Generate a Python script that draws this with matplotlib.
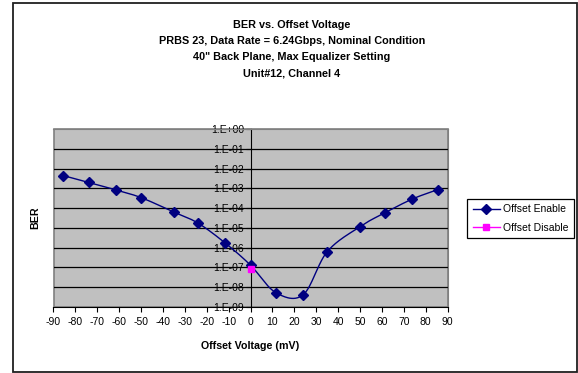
import matplotlib
matplotlib.use("Agg")
import matplotlib.pyplot as plt
from matplotlib.patches import Rectangle
import numpy as np

plt.rcParams['font.family'] = ['Liberation Sans', 'DejaVu Sans']
plt.rcParams['axes.unicode_minus'] = False

# data
offset_mv = [-85.5, -74, -61.5, -50, -35, -24, -11.5, 0, 11.5, 24, 35, 50, 61.5, 74, 85.5]
ber_enable = [4.4e-3, 2.0e-3, 8.3e-4, 3.4e-4, 6.3e-5, 1.75e-5, 1.7e-6, 1.3e-7,
              5.4e-9, 4.1e-9, 6.2e-7, 1.15e-5, 5.9e-5, 2.9e-4, 8.6e-4]
disable_mv = [0]
ber_disable = [8.8e-8]

title_lines = ["BER vs. Offset Voltage",
               "PRBS 23, Data Rate = 6.24Gbps, Nominal Condition",
               "40\" Back Plane, Max Equalizer Setting",
               "Unit#12, Channel 4"]
y_ticks = [10.0 ** -k for k in range(0, 10)]
y_labels = ["1.E+00"] + ["1.E-%02d" % k for k in range(1, 10)]
x_ticks = list(range(-90, 91, 10))


def smooth(x, y, n=30):
    # Excel style smoothed line (Catmull-Rom) in log space
    x = np.asarray(x, float)
    y = np.log10(np.asarray(y, float))
    px = np.concatenate([[2 * x[0] - x[1]], x, [2 * x[-1] - x[-2]]])
    py = np.concatenate([[2 * y[0] - y[1]], y, [2 * y[-1] - y[-2]]])
    xs, ys = [], []
    t = np.linspace(0, 1, n)
    for i in range(1, len(px) - 2):
        for p, out in ((px, xs), (py, ys)):
            p0, p1, p2, p3 = p[i - 1], p[i], p[i + 1], p[i + 2]
            out.extend(0.5 * ((2 * p1) + (-p0 + p2) * t
                              + (2 * p0 - 5 * p1 + 4 * p2 - p3) * t ** 2
                              + (-p0 + 3 * p1 - 3 * p2 + p3) * t ** 3))
    return np.array(xs), 10 ** np.array(ys)


W, H = 578, 373
fig = plt.figure(figsize=(W / 100, H / 100), dpi=100)
fig.patches.append(Rectangle((13 / W, 1 - 372 / H), 564 / W, 369 / H,
                             transform=fig.transFigure, fill=False,
                             edgecolor='#202020', linewidth=1.3))

ax = fig.add_axes([53.5 / W, 1 - 307 / H, 394 / W, 178 / H])
ax.set_facecolor('#c0c0c0')
ax.patch.set_edgecolor('#808080')
ax.patch.set_linewidth(1.2)

ax.set_yscale('log')
ax.set_ylim(1e-9, 1)
ax.set_xlim(-90, 90)
for t in y_ticks[1:-1]:
    ax.axhline(t, color='black', linewidth=0.9, zorder=1)

sx, sy = smooth(offset_mv, ber_enable)
ax.plot(sx, sy, color='#000080', linewidth=1, zorder=3)
ax.plot(offset_mv, ber_enable, linestyle='none', marker='D', markersize=4.8,
        color='#000080', zorder=4)
ax.plot(disable_mv, ber_disable, linestyle='none', marker='s', markersize=4.8,
        color='#ff00ff', zorder=5)

for s in ('top', 'right'):
    ax.spines[s].set_color('#808080')
ax.spines['left'].set_position(('data', 0))
ax.spines['left'].set_color('black')
ax.spines['left'].set_zorder(2)
ax.spines['bottom'].set_color('black')

ax.set_yticks(y_ticks)
ax.set_yticklabels(y_labels)
ax.minorticks_off()
ax.set_xticks(x_ticks)
ax.tick_params(axis='both', labelsize=7.5, length=3.5, width=0.8, direction='out')
ax.tick_params(axis='y', pad=1)
ax.tick_params(axis='x', pad=4)

ax.set_xlabel("Offset Voltage (mV)", fontsize=7.7, fontweight='bold', labelpad=10)
fig.text(35 / W, 1 - 218 / H, "BER", fontsize=7.7, fontweight='bold',
         rotation=90, ha='center', va='center')

for i, line in enumerate(title_lines):
    fig.text(292 / W, 1 - (25 + 16 * i) / H, line, fontsize=7.8,
             fontweight='bold', ha='center', va='center')

h1, = ax.plot([], [], color='#000080', marker='D', markersize=4.8, linewidth=1)
h2, = ax.plot([], [], color='#ff00ff', marker='s', markersize=4.8, linewidth=1)
leg = fig.legend([h1, h2], ["Offset Enable", "Offset Disable"], loc='center',
                 bbox_to_anchor=(520.5 / W, 1 - 218.5 / H), fontsize=7.5,
                 fancybox=False, framealpha=1, edgecolor='black',
                 handlelength=2.6, borderpad=0.5, labelspacing=0.8,
                 handletextpad=0.3)
leg.get_frame().set_linewidth(0.9)

fig.savefig("out.png", dpi=100)
